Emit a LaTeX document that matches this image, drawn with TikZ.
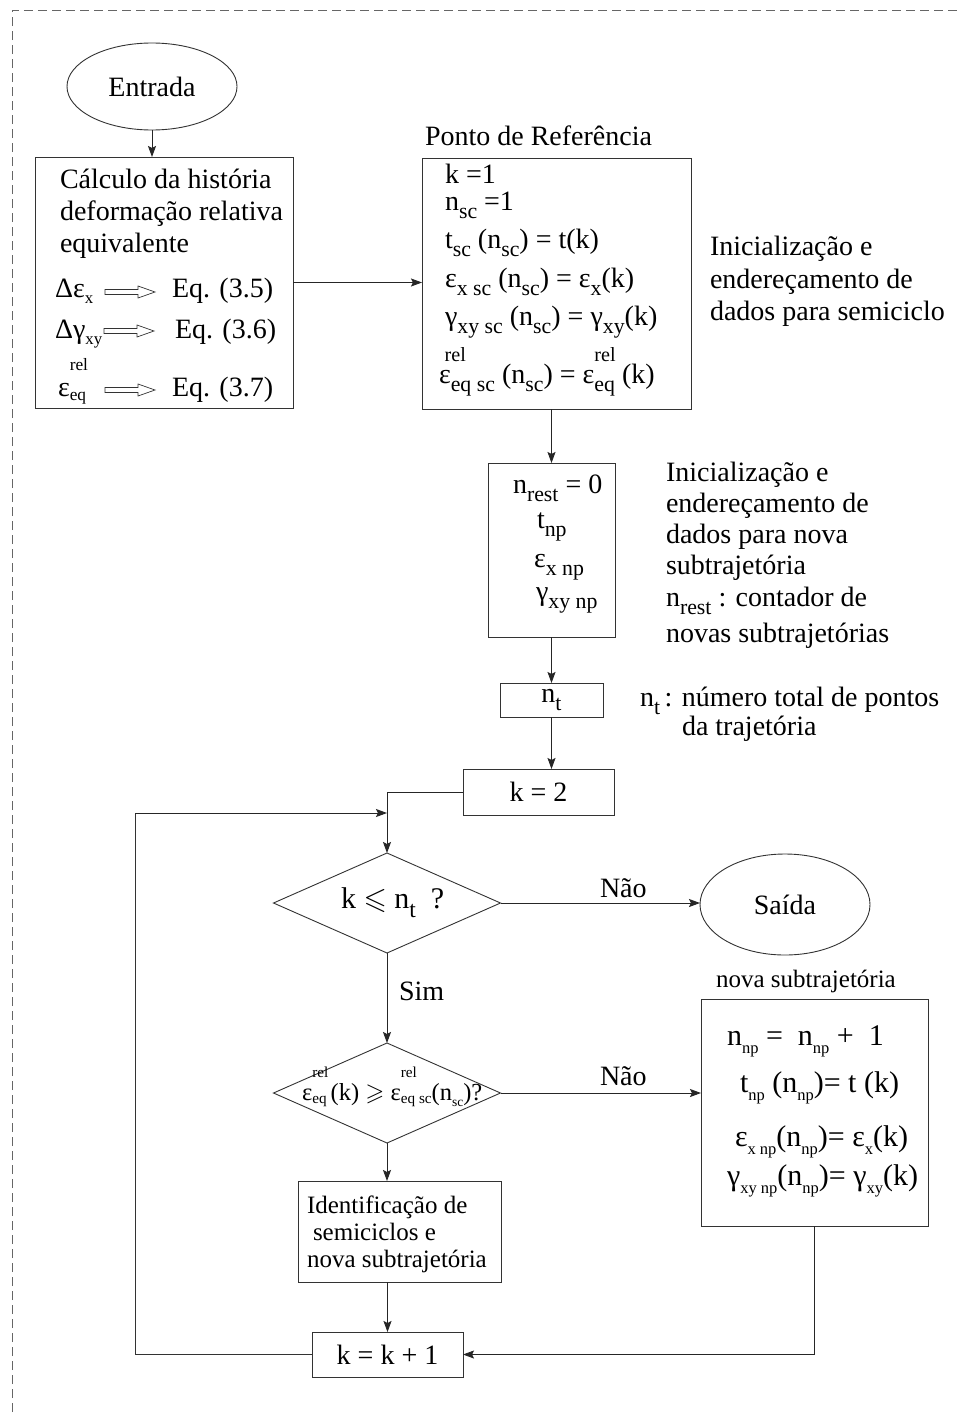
\documentclass[tikz,border=0pt]{standalone}
\usepackage{fontspec}
\setmainfont{Liberation Serif}
\usepackage{amssymb}
\usepackage{graphicx}
\usetikzlibrary{shapes.geometric,arrows.meta}
\newcommand{\lwr}[1]{\raisebox{-0.3em}{\scalebox{0.78}{#1}}}
\newcommand{\lwrs}[1]{\raisebox{-0.22em}{\scalebox{0.6}{#1}}}
\newcommand{\lwn}[1]{\raisebox{-0.28em}{\scalebox{0.55}{#1}}}
\newcommand{\upr}[1]{\raisebox{0.78em}{\scalebox{0.72}{#1}}}
\newcommand{\stk}[2]{\makebox[0pt][l]{\raisebox{0.9em}{\scalebox{0.62}{#1}}}\raisebox{-0.15em}{\scalebox{0.62}{#2}}}
\begin{document}
\begin{tikzpicture}[x=1pt,y=-1pt,
  font=\fontsize{28}{32}\selectfont,
  box/.style={draw=black!80, line width=0.9pt, inner sep=0pt, outer sep=0pt},
  arr/.style={draw=black!85, line width=0.9pt, -{Stealth[length=11pt,width=8pt,inset=2pt]}},
  ln/.style={draw=black!80, line width=0.9pt},
  txt/.style={anchor=base west, inner sep=0pt, outer sep=0pt},
  small/.style={font=\fontsize{25}{28}\selectfont},
  harrow/.pic={\draw[line width=0.7pt, black!80] (0,-2.5) -- (33,-2.5) -- (33,-6) -- (50,0) -- (33,6) -- (33,2.5) -- (0,2.5) -- cycle;}
]
\useasboundingbox (0,0) rectangle (959,1416);
\fill[white] (0,0) rectangle (959,1416);
\draw[black!60, line width=0.8pt, dash pattern=on 9pt off 5pt] (12,1440) -- (12,10) -- (990,10);

% shapes
\node[box, ellipse, minimum width=170pt, minimum height=87pt] (entrada) at (152,86.5) {Entrada};
\node[box, minimum width=258pt, minimum height=251pt] (calc) at (164,282.5) {};
\node[box, minimum width=269pt, minimum height=251pt] (ponto) at (556.5,283.5) {};
\node[box, minimum width=127pt, minimum height=174pt] (nrest) at (551.5,550) {};
\node[box, minimum width=103pt, minimum height=34pt] (nt) at (551.5,700) {n\lwr{t}};
\node[box, minimum width=151pt, minimum height=46pt] (k2) at (538.5,792) {k = 2};
\node[box, diamond, minimum width=227pt, minimum height=100pt] (d1) at (387,903) {};
\node[box, ellipse, minimum width=170pt, minimum height=101pt] (saida) at (785,904.5) {Saída};
\node[box, diamond, minimum width=227pt, minimum height=100pt] (d2) at (387,1093) {};
\node[box, minimum width=227pt, minimum height=227pt] (nova) at (814.5,1112.5) {};
\node[box, minimum width=203pt, minimum height=101pt] (ident) at (399.5,1231.5) {};
\node[box, minimum width=151pt, minimum height=45pt] (kk) at (387.5,1354.5) {k = k + 1};
\coordinate (loopc) at (135,813);

% Calculo texts
\node[txt] (c1) at (60,188) {Cálculo da história};
\node[txt] (c2) at (60,220) {deformação relativa};
\node[txt] (c3) at (60,252) {equivalente};
\node[txt] (c4) at (55,297) {Δε\lwrs{x}};
\node[txt] (c5) at (172,297) {Eq. (3.5)};
\node[txt] (c6) at (55,338) {Δγ\lwrs{xy}};
\node[txt] (c7) at (175,338) {Eq. (3.6)};
\node[txt] (c8) at (58,396) {ε\stk{rel}{eq}};
\node[txt] (c9) at (172,396) {Eq. (3.7)};
\pic at (105,292) {harrow};
\pic at (104,331) {harrow};
\pic at (105,390) {harrow};

% Ponto texts
\node[txt] (plabel) at (425,145) {Ponto de Referência};
\node[txt] (p1) at (445,183) {k =1};
\node[txt] (p2) at (445,210) {n\lwr{sc} =1};
\node[txt] (p3) at (445,248) {t\lwr{sc} (n\lwr{sc}) = t(k)};
\node[txt] (p4) at (445,287) {ε\lwr{x sc} (n\lwr{sc}) = ε\lwr{x}(k)};
\node[txt] (p5) at (445,325) {γ\lwr{xy sc} (n\lwr{sc}) = γ\lwr{xy}(k)};
\node[txt] (p6) at (439,383) {\makebox[0pt][l]{\hspace{0.2em}\upr{rel}}ε\lwr{eq sc} (n\lwr{sc}) = ε\makebox[0pt][l]{\upr{rel}}\lwr{eq} (k)};
\node[txt] (r1) at (710,255) {Inicialização e};
\node[txt] (r2) at (710,288) {endereçamento de};
\node[txt] (r3) at (710,320) {dados para semiciclo};

% nrest texts
\node[txt] (n1) at (513,493) {n\lwr{rest} = 0};
\node[txt] (n2) at (537,528) {t\lwr{np}};
\node[txt] (n3) at (534,567) {ε\lwr{x np}};
\node[txt] (n4) at (536,600) {γ\lwr{xy np}};
\node[txt] (s1) at (666,481) {Inicialização e};
\node[txt] (s2) at (666,512) {endereçamento de};
\node[txt] (s3) at (666,543) {dados para nova};
\node[txt] (s4) at (666,574) {subtrajetória};
\node[txt] (s5) at (666,606) {n\lwr{rest} : contador de};
\node[txt] (s6) at (666,642) {novas subtrajetórias};

% nt texts
\node[txt] (t1) at (640,706) {n\lwr{t}\,: número total de pontos};
\node[txt] (t2) at (682,735) {da trajetória};

% decisions
\node[txt, font=\fontsize{30}{34}\selectfont] (dq1) at (341,908) {k $\leqslant$ n\lwr{t}\ \ ?};
\node[txt] (nao1) at (600,897) {Não};
\node[txt] (sim) at (399,1000) {Sim};
\node[txt, font=\fontsize{24.5}{28}\selectfont] (dq2) at (302,1100) {ε\stk{rel}{eq}\,(k) $\geqslant$ ε\stk{rel}{eq sc}(n\lwn{sc})?};
\node[txt] (nao2) at (600,1085) {Não};

% nova
\node[txt, small] (nlabel) at (716,987) {nova subtrajetória};
\node[txt, font=\fontsize{30}{34}\selectfont] (v1) at (727,1045) {n\lwn{np} = \ n\lwn{np} + \ 1};
\node[txt, font=\fontsize{30}{34}\selectfont] (v2) at (740,1092) {t\lwn{np} (n\lwn{np})= t (k)};
\node[txt, font=\fontsize{30}{34}\selectfont] (v3) at (735,1146) {ε\lwn{x np}(n\lwn{np})= ε\lwn{x}(k)};
\node[txt, font=\fontsize{30}{34}\selectfont] (v4) at (727,1185) {γ\lwn{xy np}(n\lwn{np})= γ\lwn{xy}(k)};

% ident
\node[txt, small] (i1) at (307,1213) {Identificação de};
\node[txt, small] (i2) at (313,1240) {semiciclos e};
\node[txt, small] (i3) at (307,1267) {nova subtrajetória};

% connectors
\draw[arr] (entrada.south) -- (entrada.south |- calc.north);
\draw[arr] (calc.east) -- (calc.east -| ponto.west);
\draw[arr] (ponto.south -| nrest.north) -- (nrest.north);
\draw[arr] (nrest.south) -- (nt.north);
\draw[arr] (nt.south) -- (nt.south |- k2.north);
\draw[arr] (k2.west) -| (d1.north);
\draw[arr] (d1.east) -- (d1.east -| saida.west);
\draw[arr] (d1.south) -- (d2.north);
\draw[arr] (d2.east) -- (d2.east -| nova.west);
\draw[arr] (d2.south) -- (d2.south |- ident.north);
\draw[arr] (kk.north |- ident.south) -- (kk.north);
\draw[arr] (nova.south) |- (kk.east);
\draw[ln] (kk.west) -| (loopc);
\draw[arr] (loopc) -- (loopc -| d1.north);
\end{tikzpicture}
\end{document}
